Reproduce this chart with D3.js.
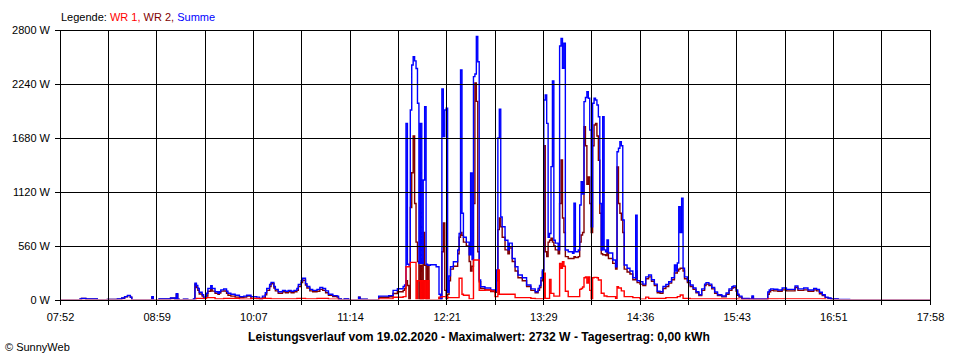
<!DOCTYPE html>
<html><head><meta charset="utf-8">
<script src="https://cdn.jsdelivr.net/npm/d3@7"></script>
<style>
body{margin:0;background:#fff}
svg{display:block}
text{font-family:"Liberation Sans",Arial,sans-serif}
</style>
</head><body>
<svg id="chart" width="960" height="360"></svg>
<script>
// ---- data ----
const startMinute = 472;   // 07:52
const endMinute = 1078;    // 17:58
const dateLabel = "19.02.2020";
const dayYield = "0,00";
// minutes after 07:52 at which the readings change
const offsetMin = [
0,14,15,18,26,33,40,43,45,47,
49,50,64,65,69,77,80,81,82,83,
86,89,93,94,95,96,97,99,100,102,
103,105,106,108,110,111,112,114,116,117,
119,122,125,128,130,133,137,139,141,143,
144,146,147,149,150,152,155,157,159,161,
163,165,166,168,169,171,172,174,176,179,
181,183,185,187,190,193,194,196,198,201,
208,209,214,222,229,232,235,239,240,241,
242,243,244,245,246,247,248,249,250,251,
252,253,254,255,256,257,258,262,264,265,
266,267,268,269,270,271,272,274,277,278,
279,280,281,283,285,286,287,288,289,290,
291,292,293,296,300,303,304,305,306,307,
308,310,312,313,315,317,319,322,325,328,
331,333,334,335,336,337,338,339,340,341,
342,343,344,345,347,348,349,350,351,352,
354,357,358,359,361,362,363,364,365,366,
367,368,369,370,371,372,373,374,375,376,
377,378,379,380,381,382,385,387,388,389,
390,391,392,393,395,397,399,401,402,404,
406,408,410,412,414,416,418,420,422,424,
426,428,429,430,431,432,433,434,435,437,
439,441,443,445,447,449,450,452,454,456,
458,461,464,466,468,469,471,472,473,475,
480,482,483,493,494,495,497,500,503,506,
510,512,514,518,521,525,527,529,531,533,
535,537,542,550,606];
const wr1 = [
0,0,0,0,0,0,0,0,0,0,
0,0,0,0,0,0,0,0,0,0,
0,0,0,0,17,17,17,17,17,25,
25,25,25,10,10,10,10,17,17,17,
17,17,8,8,8,17,17,10,17,17,
17,17,12,12,12,12,12,12,12,12,
12,17,17,17,17,12,12,12,12,17,
17,17,17,8,8,8,0,0,0,0,
0,0,0,10,10,28,28,35,35,345,
345,345,390,390,390,390,0,200,200,0,
200,0,200,0,200,0,0,0,30,30,
35,35,35,35,25,25,25,25,25,225,
225,60,50,50,10,10,10,415,415,415,
415,100,100,104,95,35,35,311,60,60,
60,60,60,60,60,25,25,25,25,17,
10,10,10,10,10,277,17,17,17,214,
69,69,40,40,40,380,330,397,350,90,
35,35,35,35,35,110,120,135,230,240,
175,240,100,0,230,235,235,230,207,207,
70,70,41,41,35,35,35,17,138,124,
124,95,95,35,35,35,25,25,25,8,
8,30,17,17,17,17,17,17,25,25,
25,25,25,35,35,52,52,17,17,17,
10,10,10,10,10,10,10,10,10,10,
10,10,10,10,10,10,10,8,5,5,
5,5,5,10,10,10,10,12,12,12,
12,12,12,12,12,12,12,12,10,0,
0,0,0,0,0];
const wr2 = [
0,8,15,8,0,5,8,18,32,45,
28,0,32,0,8,18,8,60,6,0,
6,0,8,165,128,100,62,40,15,40,
90,118,92,70,58,72,92,94,70,50,
40,30,25,30,40,15,10,3,20,55,
100,140,168,125,95,70,85,75,85,75,
85,100,140,180,205,155,125,95,85,90,
110,100,75,50,35,30,8,0,8,0,
28,6,0,28,33,68,85,100,120,200,
150,0,960,1320,1700,1000,600,400,0,360,
0,700,360,0,360,0,0,0,20,0,
500,798,100,0,60,200,320,350,480,650,
700,670,600,560,400,300,350,1000,2250,2060,
500,190,120,105,88,80,200,730,850,760,
650,520,480,540,400,300,230,200,140,100,
75,100,130,200,290,1600,500,450,600,620,
640,600,560,520,480,1000,1452,850,700,450,
430,430,450,440,450,600,674,700,1797,1600,
1200,1276,1000,700,1600,1815,1832,1700,1450,900,
480,470,470,460,500,430,380,320,1380,1000,
900,830,700,320,290,270,210,300,180,165,
150,220,240,195,150,75,70,120,140,175,
210,280,280,300,320,330,330,300,220,180,
140,110,75,45,100,150,165,150,115,70,
45,32,60,100,125,130,90,50,30,8,
5,30,4,60,85,100,95,90,105,95,
95,130,100,105,90,105,95,65,45,25,
15,8,4,0,0];
const summe = [
0,10,17,10,0,7,10,20,35,48,
30,0,35,0,10,20,10,65,8,0,
8,0,10,173,150,120,80,55,30,70,
120,148,120,85,70,85,105,114,90,70,
60,50,35,40,50,35,30,15,40,75,
120,160,183,140,110,85,100,90,100,90,
100,120,160,200,225,170,140,110,100,110,
130,120,95,60,45,40,10,0,10,0,
30,8,0,40,45,100,117,140,155,1832,
370,363,1970,2437,2523,2480,2400,2040,380,1832,
380,1244,2005,370,360,360,365,345,60,0,
2188,1694,1970,1988,80,250,345,397,518,690,
2385,900,650,600,470,1317,420,2316,2344,2732,
2471,207,138,124,104,95,311,1680,1978,860,
760,620,520,590,430,345,260,230,155,115,
86,120,150,230,311,2074,2126,1832,650,690,
1383,2271,620,590,520,2634,2713,2402,2662,518,
500,485,1003,500,518,985,1227,1100,2057,2100,
2160,2092,1763,760,2040,2092,2074,2022,1900,1000,
518,1900,520,500,622,487,415,345,1538,1573,
1642,1600,830,363,330,300,230,880,200,190,
165,240,259,210,165,90,86,140,160,190,
230,363,300,383,968,700,1055,330,240,200,
155,125,85,55,115,165,180,165,130,83,
55,41,73,115,138,145,104,60,40,15,
12,41,10,83,104,115,111,104,124,110,
110,145,115,124,104,120,110,80,55,30,
20,10,6,0,0];
const yTicks = [0, 560, 1120, 1680, 2240, 2800];
const xTickLabels = ["07:52","08:59","10:07","11:14","12:21","13:29","14:36","15:43","16:51","17:58"];
const seriesNames = ["WR 1", "WR 2", "Summe"];

// ---- layout ----
const plotL = 60, plotR = 930, plotT = 30, plotB = 300;
const colors = {"WR 1": "#ff0000", "WR 2": "#800000", "Summe": "#0000ff"};

const svg = d3.select("#chart");
const x = d3.scaleLinear().domain([startMinute, endMinute]).range([plotL, plotR]);
const y = d3.scaleLinear().domain([0, 2800]).range([plotB, plotT]);

const times = offsetMin.map(m => startMinute + m);
const seriesData = {"WR 1": wr1, "WR 2": wr2, "Summe": summe};

svg.append("defs").append("clipPath").attr("id", "clip")
  .append("rect").attr("x", plotL).attr("y", plotT).attr("width", plotR - plotL).attr("height", plotB - plotT - 0.75);

const line = d3.line().curve(d3.curveStepAfter)
  .x(d => x(d[0])).y(d => y(d[1]));

const plot = svg.append("g").attr("clip-path", "url(#clip)");
["WR 2", "Summe", "WR 1"].forEach(name => {
  const vals = seriesData[name];
  plot.append("path")
    .attr("d", line(times.map((t, i) => [t, vals[i]])))
    .attr("fill", "none")
    .attr("stroke", colors[name])
    .attr("stroke-width", 1.4)
    .attr("stroke-linejoin", "miter");
});

// grid
const gridTimes = d3.range(19).map(i => startMinute + i * (endMinute - startMinute) / 18);
const grid = svg.append("g").attr("shape-rendering", "crispEdges");
grid.selectAll("line.h").data(yTicks).join("line")
  .attr("x1", plotL - 5).attr("x2", plotR)
  .attr("y1", d => y(d)).attr("y2", d => y(d))
  .attr("stroke", "#000").attr("stroke-width", 1);
grid.selectAll("line.v").data(gridTimes).join("line")
  .attr("x1", d => x(d)).attr("x2", d => x(d))
  .attr("y1", plotT).attr("y2", plotB + 5)
  .attr("stroke", "#000").attr("stroke-width", 1);

// axes labels
const yAxis = d3.axisLeft(y).tickValues(yTicks).tickSize(0).tickPadding(10)
  .tickFormat(d => d + " W");
const gy = svg.append("g").attr("transform", `translate(${plotL},0)`).call(yAxis);
gy.select(".domain").remove();
gy.selectAll("text").attr("font-size", 11).attr("fill", "#000")
  .attr("font-family", '"Liberation Sans",Arial,sans-serif');

const labelTimes = gridTimes.filter((d, i) => i % 2 === 0);
const xAxis = d3.axisBottom(x).tickValues(labelTimes).tickSize(0).tickPadding(13)
  .tickFormat((d, i) => xTickLabels[i]);
const gx = svg.append("g").attr("transform", `translate(0,${plotB})`).call(xAxis);
gx.select(".domain").remove();
gx.selectAll("text").attr("font-size", 11).attr("fill", "#000")
  .attr("font-family", '"Liberation Sans",Arial,sans-serif');

// legend
const leg = svg.append("text").attr("x", 61).attr("y", 21).attr("font-size", 11);
leg.append("tspan").attr("fill", "#000").text("Legende: ");
seriesNames.forEach((n, i) => {
  leg.append("tspan").attr("fill", colors[n]).text(n + (i < seriesNames.length - 1 ? ", " : ""));
});

// title
const maxVal = d3.max(summe);
svg.append("text").attr("x", 479).attr("y", 340.5).attr("text-anchor", "middle")
  .attr("font-size", 12).attr("font-weight", "bold")
  .attr("textLength", 462).attr("lengthAdjust", "spacingAndGlyphs")
  .text(`Leistungsverlauf vom ${dateLabel} - Maximalwert: ${maxVal} W - Tagesertrag: ${dayYield} kWh`);

svg.append("text").attr("x", 5).attr("y", 351).attr("font-size", 11)
  .text("\u00A9 SunnyWeb");
</script>
</body></html>
